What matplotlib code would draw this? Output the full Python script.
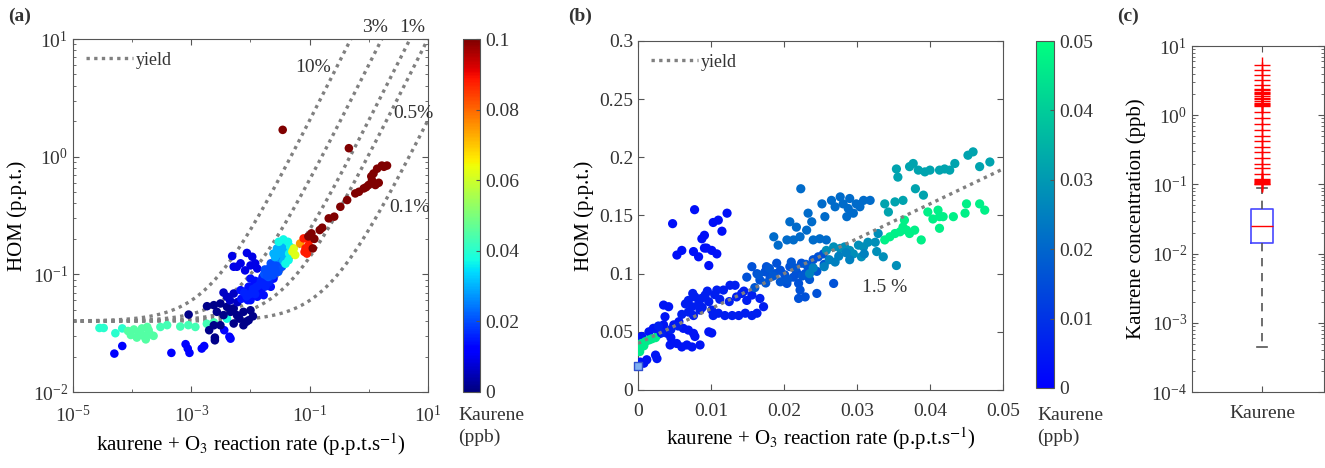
import numpy as np
import matplotlib.pyplot as plt
from matplotlib import ticker

plt.rcParams['font.family'] = ['Liberation Serif', 'DejaVu Serif']
plt.rcParams['mathtext.fontset'] = 'stix'
plt.rcParams['font.size'] = 14
plt.rcParams['text.color'] = '#333333'
plt.rcParams['axes.edgecolor'] = '#555555'
plt.rcParams['xtick.color'] = '#555555'
plt.rcParams['ytick.color'] = '#555555'
plt.rcParams['xtick.labelcolor'] = '#333333'
plt.rcParams['ytick.labelcolor'] = '#333333'

# ---- panel (a): log-log, coloured by kaurene (ppb)
a_rate = [2.8e-5, 5.2e-5, 6.8e-5, 3.3e-5,
          1.07e-4, 1.3e-4, 1.56e-4, 1.9e-4, 2.3e-4, 1.8e-4, 1.46e-4, 8.5e-5, 9.5e-5, 1.2e-4, 2.0e-4, 1.7e-4,
          3e-4, 3.9e-4, 8.9e-4, 1.17e-3, 1.83e-3, 2.4e-3, 6.5e-4, 4e-3,
          5e-5, 6.8e-5, 4.6e-4, 8e-4, 8.7e-4, 9.3e-4, 1.5e-3, 1.65e-3, 3.6e-3, 4.6e-3, 4.4e-3,
          9e-4,
          1.84e-3, 2.4e-3, 3.1e-3, 4e-3, 5.2e-3, 2.7e-3, 3.5e-3, 4.6e-3, 5.9e-3, 7.6e-3, 1e-2,
          2.4e-3, 3.1e-3, 5.2e-3, 7.6e-3, 9.3e-3, 2.0e-3, 2.5e-3, 2.5e-3, 6.5e-3, 8.5e-3, 1.1e-2,
          4e-3, 5.2e-3, 3.5e-3, 4.5e-3, 6e-3,
          4.9e-3, 5.9e-3, 5.2e-3, 6.8e-3, 8.1e-3, 8.7e-3, 1.07e-2, 1.2e-2, 1.0e-2, 1.3e-2,
          6.8e-3, 8.1e-3, 9.3e-3, 1.12e-2, 1.37e-2, 1.56e-2, 1.9e-2, 1.3e-2, 1.0e-2, 1.67e-2,
          2.2e-2, 2.45e-2, 9e-3, 7e-3, 1.15e-2, 1.45e-2, 8.5e-3, 1.2e-2, 1.0e-2, 1.6e-2,
          1.1e-2, 1.25e-2, 1.4e-2, 1.5e-2, 1.7e-2, 1.8e-2, 2.05e-2, 9.8e-3, 1.2e-2, 8.6e-3, 7.8e-3,
          1.9e-2, 2.2e-2, 2.45e-2, 2.8e-2, 2.3e-2, 2.95e-2, 3.4e-2, 1.7e-2, 2.0e-2, 2.6e-2, 3.1e-2,
          1.75e-2, 2.1e-2, 2.3e-2, 2.6e-2, 2.7e-2, 2.4e-2, 2.1e-2, 1.9e-2, 2.9e-2, 3.2e-2,
          2.7e-2, 3.0e-2, 3.3e-2, 3.0e-2, 3.5e-2, 3.1e-2,
          2.45e-2, 2.8e-2, 3.4e-2, 3.2e-2, 3.9e-2, 4.1e-2, 2.6e-2, 3.6e-2,
          3e-2, 3.6e-2, 4.3e-2, 4.7e-2, 4.4e-2, 3.9e-2, 4.5e-2,
          5.4e-2, 5.7e-2, 5.1e-2, 6.9e-2,
          7.9e-2, 8.5e-2, 9.6e-2, 0.1, 9e-2, 8.2e-2,
          0.107, 0.113, 0.148, 0.163, 0.21, 0.26, 0.33, 0.43, 0.59, 0.68, 0.82, 0.99, 1.13,
          1.2, 1.38, 1.66, 2.03, 1.29, 1.47, 0.9, 1.1, 1.8, 3.5e-2, 0.46, 0.12, 0.095]
a_hom = [0.035, 0.0316, 0.0347, 0.035,
         0.034, 0.032, 0.030, 0.0335, 0.030, 0.0357, 0.0347, 0.033, 0.0305, 0.029, 0.031, 0.028,
         0.0357, 0.037, 0.037, 0.0357, 0.038, 0.039, 0.036, 0.042,
         0.0212, 0.0246, 0.0215, 0.0255, 0.0234, 0.0215, 0.0234, 0.0246, 0.0335, 0.0284, 0.0295,
         0.0455,
         0.0536, 0.0547, 0.0565, 0.0529, 0.0513, 0.048, 0.045, 0.048, 0.045, 0.048, 0.0495,
         0.0369, 0.0369, 0.0382, 0.0369, 0.0407, 0.0335, 0.029, 0.0275, 0.042, 0.0395, 0.044,
         0.0645, 0.0687, 0.07, 0.06, 0.058,
         0.143, 0.116, 0.116, 0.124, 0.108, 0.152, 0.141, 0.124, 0.119, 0.112,
         0.0733, 0.0665, 0.0784, 0.071, 0.0836, 0.0759, 0.089, 0.0645, 0.0603, 0.0665,
         0.0784, 0.092, 0.0603, 0.062, 0.081, 0.07, 0.072, 0.088, 0.092, 0.095,
         0.075, 0.078, 0.081, 0.088, 0.084, 0.079, 0.086, 0.068, 0.068, 0.065, 0.07,
         0.108, 0.124, 0.116, 0.132, 0.101, 0.105, 0.116, 0.1, 0.095, 0.125, 0.12,
         0.11, 0.113, 0.12, 0.112, 0.104, 0.098, 0.104, 0.097, 0.128, 0.135,
         0.145, 0.155, 0.145, 0.138, 0.168, 0.172,
         0.150, 0.166, 0.177, 0.150, 0.161, 0.141, 0.14, 0.13,
         0.189, 0.198, 0.189, 0.171, 0.132, 0.123, 0.15,
         0.166, 0.146, 0.156, 0.183,
         0.202, 0.166, 0.177, 0.197, 0.150, 0.155,
         0.223, 0.166, 0.238, 0.249, 0.299, 0.309, 0.375, 0.428, 0.487, 0.503, 0.537, 0.574, 0.63,
         0.72, 0.79, 0.84, 0.84, 0.574, 0.6, 0.55, 0.68, 0.82, 1.69, 1.18, 0.2, 0.21]
a_kaur = ([0.040] * 4 + [0.045] * 12 + [0.043] * 7 + [0.038] + [0.012] * 11 + [0.001]
          + [0.001] * 22 + [0.006] * 5 + [0.009] * 10 + [0.014] * 20 + [0.016] * 11
          + [0.021] * 11 + [0.020] * 10 + [0.026] * 6
          + [0.030] * 8 + [0.037] * 7 + [0.062] * 3 + [0.075] + [0.088] * 6 + [0.1] * 26)

yields = [0.10, 0.03, 0.01, 0.005, 0.001]
yield_labels = ['10%', '3%', '1%', '0.5%', '0.1%']
label_x = [0.115, 1.26, 5.4, 5.6, 4.9]
label_y = [5.7, 12.5, 12.5, 2.35, 0.37]
hom_background = 0.04
sink_factor = 200.0

# ---- panel (b): linear, coloured by kaurene (ppb)
b_rate = [0.00474, 0.00533, 0.0060, 0.00775, 0.0076, 0.0083, 0.00875, 0.0091, 0.0094, 0.0097,
          0.0101, 0.0108, 0.0103, 0.011, 0.0115, 0.0122, 0.0091,
          0.0003, 0.0008, 0.0005, 0.0024, 0.0026, 0.0021, 0.0031, 0.0035, 0.004, 0.0044, 0.0053,
          0.006, 0.0067, 0.0074, 0.0085, 0.0035, 0.0042, 0.0037, 0.0049, 0.0056, 0.0062, 0.0069,
          0.0076, 0.0078, 0.0097, 0.0101, 0.0015, 0.0028, 0.0045, 0.0012,
          0.0005, 0.001, 0.0015, 0.0019, 0.0003, 0.00023, 0.0024, 0.0008,
          0.0069, 0.0074, 0.0078, 0.0083, 0.0087, 0.0092, 0.0097, 0.0069, 0.0076, 0.0085, 0.0101,
          0.0103, 0.011, 0.0119, 0.0129, 0.0138, 0.0147, 0.0156, 0.0163, 0.0108, 0.0117, 0.0126,
          0.0133, 0.0142, 0.0149, 0.0156, 0.0167, 0.0172,
          0.0075, 0.0088, 0.0095, 0.0105, 0.0112, 0.0125, 0.0135, 0.0145, 0.006, 0.0065, 0.0055,
          0.0045, 0.0028, 0.0032,
          0.0149, 0.0156, 0.0163, 0.0167, 0.0174, 0.0181, 0.0188, 0.0195, 0.0201, 0.0208, 0.0213,
          0.0217, 0.0224, 0.0229, 0.0233, 0.024, 0.0247, 0.0254, 0.019, 0.0176, 0.022, 0.0222,
          0.022, 0.0229, 0.0245, 0.0268, 0.0204,
          0.0185, 0.0205, 0.0215, 0.0195, 0.0225, 0.0235, 0.0245, 0.0175, 0.016, 0.0165, 0.021,
          0.023, 0.0255, 0.018,
          0.0258, 0.0268, 0.0277, 0.0283, 0.029, 0.0295, 0.0302, 0.0309, 0.0315, 0.0306, 0.0327,
          0.0336, 0.0354, 0.0329, 0.0325,
          0.0262, 0.0275, 0.0285, 0.0255, 0.027, 0.029, 0.031, 0.024, 0.0235,
          0.0338, 0.0345, 0.0352, 0.0359, 0.0363, 0.0368, 0.0365, 0.0372, 0.0379, 0.0388, 0.0397,
          0.0404, 0.0411, 0.0413, 0.0418, 0.0432, 0.0448, 0.045, 0.0468, 0.0475, 0.0413,
          0.0223, 0.0208, 0.0217, 0.0233, 0.0238, 0.0252, 0.0256, 0.0265, 0.027, 0.0277, 0.0281,
          0.0288, 0.029, 0.0295, 0.0299, 0.0304, 0.0309, 0.0286, 0.0318, 0.0186, 0.0192, 0.0204,
          0.0213, 0.0222, 0.0231, 0.024, 0.0249, 0.0258,
          0.0338, 0.0343, 0.0352, 0.0363, 0.0354, 0.0356, 0.0372, 0.0377, 0.0384, 0.0393, 0.04,
          0.0413, 0.042, 0.0427, 0.0434, 0.0452, 0.0459, 0.0468, 0.0482, 0.038, 0.0391]
b_hom = [0.143, 0.116, 0.120, 0.155, 0.119, 0.1145, 0.130, 0.133, 0.122, 0.107,
         0.120, 0.117, 0.144, 0.146, 0.1365, 0.152, 0.122,
         0.024, 0.023, 0.046, 0.030, 0.027, 0.053, 0.053, 0.056, 0.0487, 0.0387, 0.040,
         0.037, 0.0387, 0.037, 0.0387, 0.073, 0.0716, 0.063, 0.056, 0.0587, 0.053, 0.0515,
         0.0487, 0.046, 0.050, 0.049, 0.050, 0.048, 0.045, 0.026,
         0.040, 0.0415, 0.043, 0.044, 0.036, 0.033, 0.045, 0.038,
         0.077, 0.0716, 0.080, 0.074, 0.0787, 0.0816, 0.0759, 0.067, 0.064, 0.0687, 0.0687,
         0.064, 0.066, 0.064, 0.064, 0.064, 0.066, 0.064, 0.066, 0.0859, 0.0859, 0.090,
         0.090, 0.083, 0.077, 0.0816, 0.0787, 0.0716,
         0.083, 0.071, 0.085, 0.082, 0.078, 0.076, 0.080, 0.085, 0.065, 0.074, 0.055,
         0.052, 0.055, 0.049,
         0.097, 0.106, 0.100, 0.0945, 0.1016, 0.097, 0.100, 0.103, 0.099, 0.106, 0.097,
         0.1016, 0.109, 0.100, 0.106, 0.112, 0.1145, 0.117, 0.109, 0.106, 0.0916, 0.0859,
         0.0787, 0.080, 0.083, 0.0916, 0.0916,
         0.098, 0.095, 0.105, 0.093, 0.098, 0.095, 0.102, 0.092, 0.088, 0.099, 0.11,
         0.108, 0.108, 0.1045,
         0.120, 0.123, 0.1217, 0.123, 0.120, 0.117, 0.1245, 0.123, 0.127, 0.1145, 0.119,
         0.1145, 0.107, 0.1345, 0.127,
         0.112, 0.115, 0.118, 0.106, 0.11, 0.112, 0.117, 0.105, 0.1,
         0.129, 0.1317, 0.1345, 0.136, 0.140, 0.1374, 0.146, 0.1345, 0.1374, 0.129, 0.153,
         0.147, 0.1546, 0.149, 0.149, 0.149, 0.152, 0.160, 0.160, 0.1546, 0.139,
         0.173, 0.1446, 0.140, 0.152, 0.1446, 0.160, 0.149, 0.163, 0.1575, 0.166, 0.160,
         0.156, 0.1646, 0.152, 0.160, 0.1575, 0.163, 0.149, 0.163, 0.1317, 0.1245, 0.129,
         0.129, 0.1317, 0.1374, 0.129, 0.130, 0.129,
         0.160, 0.153, 0.1617, 0.163, 0.190, 0.183, 0.192, 0.1947, 0.189, 0.1875, 0.189,
         0.189, 0.190, 0.189, 0.1947, 0.2018, 0.2047, 0.192, 0.196, 0.173, 0.1675]
b_kaur = ([0.003] * 17 + [0.004] * 30 + [0.046] * 8 + [0.006] * 28 + [0.006] * 14
          + [0.016] * 27 + [0.017] * 14 + [0.028] * 15 + [0.025] * 9 + [0.047] * 21
          + [0.021] * 28 + [0.032] * 21)
b_yield = 0.015

# ---- panel (c): box plot of kaurene concentration (ppb)
c_median = 0.0254
c_q1 = 0.0143
c_q3 = 0.044
c_whislo = 4.5e-4
c_whishi = 0.089
c_outliers = [5.3, 4.5, 3.8, 3.2, 2.7, 2.4, 2.3, 2.2, 2.1, 2.0, 1.9, 1.8, 1.7, 1.6, 1.5, 1.45,
              1.4, 1.35, 1.13, 0.9, 0.75, 0.62, 0.5, 0.42, 0.35, 0.29, 0.24, 0.2, 0.17, 0.14,
              0.12, 0.115, 0.112, 0.108, 0.105, 0.102, 0.1]

W, H = 1325, 468
fig = plt.figure(figsize=(W / 100, H / 100), dpi=100)


def box(l, t, r, b):
    return [l / W, 1 - b / H, (r - l) / W, (b - t) / H]


dot_style = dict(color='#808080', linestyle=(0, (1, 1.3)), linewidth=2.4)

# (a)
ax = fig.add_axes(box(73, 39, 428, 392))
cax = fig.add_axes(box(463, 39, 480, 392))
rate_line = np.logspace(-5, 1, 300)
for i, yv in enumerate(yields):
    ax.plot(rate_line, hom_background + sink_factor * yv * rate_line,
            label='yield' if i == 0 else None, **dot_style)
    ax.text(label_x[i], label_y[i], yield_labels[i], ha='center', va='center',
            fontsize=14, clip_on=False)
sc = ax.scatter(a_rate, a_hom, c=a_kaur, cmap='jet', vmin=0, vmax=0.1, s=38,
                edgecolors='none', zorder=3)
ax.set_xscale('log')
ax.set_yscale('log')
ax.set_xlim(1e-5, 1e1)
ax.set_ylim(1e-2, 1e1)
ax.xaxis.set_major_locator(ticker.FixedLocator([1e-5, 1e-3, 1e-1, 1e1]))
ax.xaxis.set_minor_locator(ticker.FixedLocator([1e-4, 1e-2, 1e0]))
ax.xaxis.set_minor_formatter(ticker.NullFormatter())
ax.set_xlabel('kaurene + O$_3$ reaction rate (p.p.t.s$^{-1}$)', fontsize=15)
ax.set_ylabel('HOM (p.p.t.)', fontsize=15)
ax.legend(loc='upper left', frameon=False, handlelength=2.6, handletextpad=0.2,
          fontsize=13, borderaxespad=0.3)
cb = fig.colorbar(sc, cax=cax)
cb.set_ticks([0, 0.02, 0.04, 0.06, 0.08, 0.1])
cb.ax.yaxis.set_major_formatter(ticker.FormatStrFormatter('%g'))
cb.outline.set_edgecolor('#555555')
fig.text(458 / W, 1 - 415 / H, 'Kaurene', fontsize=14, va='center')
fig.text(458 / W, 1 - 437 / H, '(ppb)', fontsize=14, va='center')
fig.text(8 / W, 1 - 16 / H, '(a)', fontsize=14, weight='bold', va='center')
axes_a = [ax, cax]

# (b)
ax = fig.add_axes(box(638, 41, 1003, 390))
cax = fig.add_axes(box(1036, 41, 1054, 388))
xb = np.array([0, 0.05])
ax.plot(xb, hom_background + sink_factor * b_yield * xb, label='yield', zorder=4, **dot_style)
sc = ax.scatter(b_rate, b_hom, c=b_kaur, cmap='winter', vmin=0, vmax=0.05, s=44,
                edgecolors='none', zorder=3)
ax.scatter([0.0], [0.021], marker='s', s=28, facecolor='#80b0f0', edgecolor='#3050d0',
           zorder=5, clip_on=False)
ax.text(0.0338, 0.0885, '1.5 %', ha='center', va='center', fontsize=14)
ax.set_xlim(0, 0.05)
ax.set_ylim(0, 0.3)
ax.xaxis.set_major_formatter(ticker.FormatStrFormatter('%g'))
ax.yaxis.set_major_formatter(ticker.FormatStrFormatter('%g'))
ax.set_xticks([0, 0.01, 0.02, 0.03, 0.04, 0.05])
ax.set_yticks([0, 0.05, 0.1, 0.15, 0.2, 0.25, 0.3])
ax.set_xlabel('kaurene + O$_3$ reaction rate (p.p.t.s$^{-1}$)', fontsize=15)
ax.set_ylabel('HOM (p.p.t.)', fontsize=15)
ax.legend(loc='upper left', frameon=False, handlelength=2.6, handletextpad=0.2,
          fontsize=13, borderaxespad=0.3)
cb = fig.colorbar(sc, cax=cax)
cb.set_ticks([0, 0.01, 0.02, 0.03, 0.04, 0.05])
cb.ax.yaxis.set_major_formatter(ticker.FormatStrFormatter('%g'))
cb.outline.set_edgecolor('#555555')
fig.text(1037 / W, 1 - 415 / H, 'Kaurene', fontsize=14, va='center')
fig.text(1037 / W, 1 - 437 / H, '(ppb)', fontsize=14, va='center')
fig.text(568 / W, 1 - 16 / H, '(b)', fontsize=14, weight='bold', va='center')
axes_b = [ax, cax]

# (c)
ax = fig.add_axes(box(1192, 46, 1324, 392))
stats = [dict(med=c_median, q1=c_q1, q3=c_q3, whislo=c_whislo, whishi=c_whishi,
              fliers=c_outliers, label='Kaurene')]
ax.bxp(stats, positions=[1], widths=0.16,
       boxprops=dict(color='#4848ff', linewidth=1.2),
       medianprops=dict(color='red', linewidth=1.0),
       whiskerprops=dict(color='#555555', linestyle=(0, (5, 4)), linewidth=1.2),
       capprops=dict(color='#555555', linewidth=1.2),
       flierprops=dict(marker='+', markeredgecolor='red', markersize=11,
                       markeredgewidth=1.0, linestyle='none'))
ax.set_yscale('log')
ax.set_ylim(1e-4, 1e1)
ax.set_xlim(0.47, 1.47)
ax.set_ylabel('Kaurene concentration (ppb)', fontsize=15)
fig.text(1117 / W, 1 - 16 / H, '(c)', fontsize=14, weight='bold', va='center')

for a in axes_a + axes_b + [ax]:
    a.tick_params(which='both', direction='in', top=True, right=True, labelsize=14)
    a.tick_params(which='major', length=4)
    a.tick_params(which='minor', length=2)
for a in [axes_a[0], axes_b[0], ax]:
    a.tick_params(axis='x', which='major', pad=9)
for a in [axes_a[1], axes_b[1]]:
    a.tick_params(which='both', top=False, left=False, right=True, length=3)

fig.savefig('out.png', dpi=100)
